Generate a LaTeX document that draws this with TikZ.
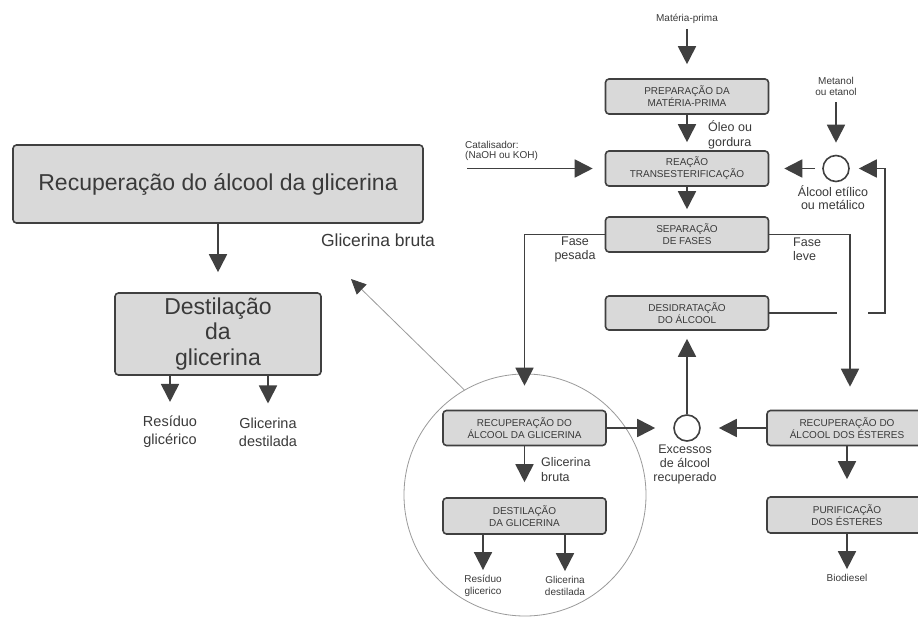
\documentclass[tikz,border=0pt]{standalone}
\usepackage{fontspec}
\setmainfont{Liberation Sans}
\usetikzlibrary{arrows.meta,shapes.geometric}
\definecolor{dk}{HTML}{404040}
\definecolor{boxfill}{HTML}{D9D9D9}
\definecolor{txt}{HTML}{3A3A3A}
\definecolor{thinc}{HTML}{9A9A9A}
\newcommand{\fsz}[2]{\fontsize{#1}{#2}\selectfont}
\tikzset{
  box/.style={draw=dk, fill=boxfill, line width=1.6pt, rounded corners=3.5pt,
    minimum width=163pt, minimum height=35pt, align=center, font=\fsz{10}{12},
    text=txt, inner sep=0pt},
  arr/.style={draw=dk, line width=1.8pt, -{Triangle[length=18pt,width=18pt]}},
  ln/.style={draw=dk, line width=1.8pt},
  lbl/.style={text=txt, align=center, inner sep=0pt},
  smallc/.style={circle, draw=dk, line width=1.6pt, minimum size=26pt, inner sep=0pt},
  thinarr/.style={draw=thinc, line width=0.8pt, -{Triangle[length=15pt,width=14pt,color=dk]}}
}
\begin{document}
\begin{tikzpicture}[x=1pt,y=-1pt]
\clip (0,0) rectangle (918,616);
\fill[white] (0,0) rectangle (918,616);

% big thin circle
\node[circle, draw=thinc, line width=0.8pt, minimum size=242pt, inner sep=0pt] (bigc) at (525,495) {};

% boxes
\node[box] (prep) at (687,96.5) {PREPARAÇÃO DA\\MATÉRIA-PRIMA};
\node[box] (reac) at (687,168.5) {REAÇÃO\\TRANSESTERIFICAÇÃO};
\node[box] (sep) at (687,234.5) {SEPARAÇÃO\\DE FASES};
\node[box, minimum height=34pt] (desid) at (687,313) {DESIDRATAÇÃO\\DO ÁLCOOL};
\node[box] (recglic) at (524.5,428) {RECUPERAÇÃO DO\\ÁLCOOL DA GLICERINA};
\node[box, minimum height=36pt] (destglic) at (524.5,516) {DESTILAÇÃO\\DA GLICERINA};
\node[box, minimum width=160pt] (recest) at (847,428) {RECUPERAÇÃO DO\\ÁLCOOL DOS ÉSTERES};
\node[box, minimum width=160pt, minimum height=36pt] (purif) at (847,515) {PURIFICAÇÃO\\DOS ÉSTERES};
\node[box, minimum width=410pt, minimum height=78pt, font=\fsz{23}{26}] (big) at (218,184) {Recuperação do álcool da glicerina};
\node[box, minimum width=206pt, minimum height=82pt, font=\fsz{23}{25.5}] (dest) at (218,334) {Destilação\\da\\glicerina};

% small circles
\node[smallc] (alc) at (836,168.5) {};
\node[smallc] (exc) at (687,428) {};

% labels
\node[lbl, font=\fsz{10}{12}] (mp) at (687,19) {Matéria-prima};
\node[lbl, font=\fsz{10}{11}] (met) at (836,86) {Metanol\\ou etanol};
\node[lbl, font=\fsz{10}{10.5}, align=left, anchor=west] (cat) at (465,151) {Catalisador:\\(NaOH ou KOH)};
\node[lbl, font=\fsz{12.5}{15}, align=left, anchor=west] (oleo) at (708,134.5) {Óleo ou\\gordura};
\node[lbl, font=\fsz{12.5}{13}] (alcl) at (833,198) {Álcool etílico\\ou metálico};
\node[lbl, font=\fsz{12.5}{14}] (fp) at (575,249) {Fase\\pesada};
\node[lbl, font=\fsz{12.5}{14}, align=left, anchor=west] (fl) at (793,249) {Fase\\leve};
\node[lbl, font=\fsz{12.5}{14}] (excl) at (685,464) {Excessos\\de álcool\\recuperado};
\node[lbl, font=\fsz{12.5}{15}, align=left, anchor=west] (gbi) at (541,469.5) {Glicerina\\bruta};
\node[lbl, font=\fsz{10}{12}] (resi) at (483,586) {Resíduo\\glicerico};
\node[lbl, font=\fsz{10}{12}] (gdi) at (565,586) {Glicerina\\destilada};
\node[lbl, font=\fsz{10}{12}] (bio) at (847,578) {Biodiesel};
\node[lbl, font=\fsz{17.5}{20}] (gbl) at (378,240) {Glicerina bruta};
\node[lbl, font=\fsz{14.5}{18}] (resl) at (170,432) {Resíduo\\glicérico};
\node[lbl, font=\fsz{14.5}{18}] (gdl) at (268,432) {Glicerina\\destilada};

% coordinates
\coordinate (catS) at (467,168.5);
\coordinate (g1) at (837,313);
\coordinate (g2) at (868,313);
\coordinate (lc) at (885,313);
\coordinate (fl1) at (850,234.5);
\coordinate (tip) at (351,279);

% connectors
\draw[arr, shorten <=5pt, shorten >=14pt] (mp) -- (prep);
\draw[arr, shorten >=8pt] (prep) -- (reac);
\draw[arr, shorten >=7pt] (reac) -- (sep);
\draw[arr, shorten >=12pt] (catS) -- (reac.west);
\draw[arr, shorten <=7pt, shorten >=12pt] (met) -- (alc);
\draw[arr, shorten <=7pt, shorten >=15pt] (alc) -- (reac);
\draw[ln] (desid.east) -- (g1);
\draw[arr, shorten >=9pt] (g2) -- (lc) |- (alc.east);
\draw[arr, shorten >=24pt] (sep.west) -| (recglic.north);
\draw[arr, shorten >=23pt] (sep.east) -- (fl1) -- (fl1 |- recest.north);
\draw[arr, shorten >=8pt] (exc) -- (desid);
\draw[arr, shorten >=18pt] (recglic.east) -- (exc.west);
\draw[arr, shorten >=18pt] (recest.west) -- (exc.east);
\draw[arr, shorten >=15pt] (recglic) -- (destglic);
\draw[arr, shorten >=5pt] (destglic.south -| resi) -- (resi);
\draw[arr, shorten >=5pt] (destglic.south -| gdi) -- (gdi);
\draw[arr, shorten >=17pt] (recest) -- (purif);
\draw[arr, shorten >=5pt] (purif) -- (bio);
\draw[arr, shorten >=20pt] (big) -- (dest);
\draw[arr, shorten >=14pt] (dest.south -| resl) -- (resl);
\draw[arr, shorten >=14pt] (dest.south -| gdl) -- (gdl);
\draw[thinarr] (bigc.120) -- (tip);
\end{tikzpicture}
\end{document}
